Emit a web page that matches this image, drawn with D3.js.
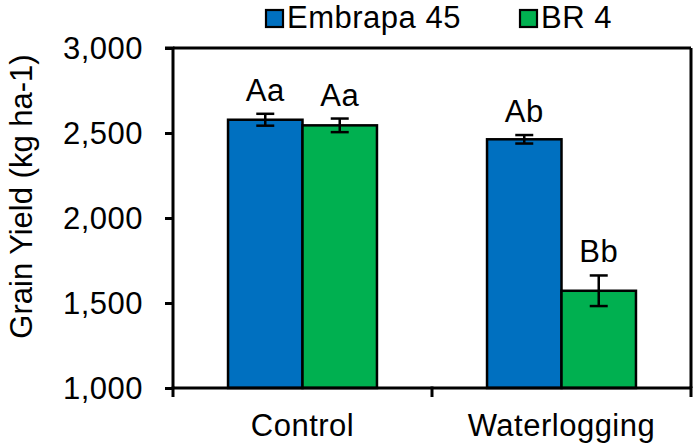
<!DOCTYPE html>
<html>
<head>
<meta charset="utf-8">
<script src="https://cdn.jsdelivr.net/npm/d3@7"></script>
<style>
  body { margin: 0; background: #fff; }
  svg text { font-family: "Liberation Sans", Arial, sans-serif; fill: #000; }
</style>
</head>
<body>
<svg id="chart" width="695" height="445"></svg>
<script>
const categories = ["Control", "Waterlogging"];
const series = ["Embrapa 45", "BR 4"];
const embrapa45 = [2578, 2463];
const br4 = [2545, 1572];
const embrapa45Err = [35, 25];
const br4Err = [40, 90];
const embrapa45Labels = ["Aa", "Ab"];
const br4Labels = ["Aa", "Bb"];
const yTicks = [1000, 1500, 2000, 2500, 3000];
const colors = ["#0070C0", "#00B050"];

(function () {
const svg = d3.select("#chart");
const pL = 173, pR = 691, pT = 48, pB = 388;
const fs = 31, ls = "0.5px";

const y = d3.scaleLinear().domain([1000, 3000]).range([pB, pT]);
const x0 = d3.scaleBand().domain(categories).range([pL, pR]).padding(0);
const bw = x0.bandwidth();
const x1 = d3.scaleBand().domain(series).range([bw * 0.2125, bw * 0.7875]).padding(0);

const data = [];
categories.forEach((c, i) => {
  data.push({cat: c, s: series[0], v: embrapa45[i], e: embrapa45Err[i], lab: embrapa45Labels[i], col: colors[0]});
  data.push({cat: c, s: series[1], v: br4[i], e: br4Err[i], lab: br4Labels[i], col: colors[1]});
});

// bars
svg.append("g").selectAll("rect").data(data).join("rect")
  .attr("x", d => x0(d.cat) + x1(d.s))
  .attr("y", d => y(d.v))
  .attr("width", x1.bandwidth())
  .attr("height", d => y(1000) - y(d.v))
  .attr("fill", d => d.col)
  .attr("stroke", "#000")
  .attr("stroke-width", 2.5);

// error bars
const eg = svg.append("g").attr("stroke", "#000").attr("stroke-width", 2.5);
data.forEach(d => {
  const cx = x0(d.cat) + x1(d.s) + x1.bandwidth() / 2;
  eg.append("line").attr("x1", cx).attr("x2", cx).attr("y1", y(d.v + d.e)).attr("y2", y(d.v - d.e));
  eg.append("line").attr("x1", cx - 9).attr("x2", cx + 9).attr("y1", y(d.v + d.e)).attr("y2", y(d.v + d.e));
  eg.append("line").attr("x1", cx - 9).attr("x2", cx + 9).attr("y1", y(d.v - d.e)).attr("y2", y(d.v - d.e));
});

// letter labels
svg.append("g").selectAll("text").data(data).join("text")
  .attr("x", d => x0(d.cat) + x1(d.s) + x1.bandwidth() / 2)
  .attr("y", d => y(d.v + d.e) - 13)
  .attr("text-anchor", "middle")
  .attr("font-size", fs)
  .style("letter-spacing", ls)
  .text(d => d.lab);

// frame top/right
svg.append("line").attr("x1", pL).attr("x2", pR).attr("y1", pT).attr("y2", pT)
  .attr("stroke", "#000").attr("stroke-width", 3);
svg.append("line").attr("x1", pR).attr("x2", pR).attr("y1", pT).attr("y2", pB)
  .attr("stroke", "#000").attr("stroke-width", 3);

// y axis
const yAxis = d3.axisLeft(y).tickValues(yTicks).tickSize(8).tickPadding(22)
  .tickFormat(d3.format(","));
const ya = svg.append("g").attr("transform", `translate(${pL},0)`).call(yAxis);
ya.select(".domain").attr("stroke-width", 3).attr("d", `M-8,${pT}H0V${pB}`);
ya.selectAll(".tick line").attr("stroke-width", 3);
ya.selectAll(".tick text").attr("font-size", fs).style("letter-spacing", ls)
  .attr("font-family", "Liberation Sans, Arial, sans-serif").attr("dy", "0.35em");

// x axis
const xa = svg.append("g").attr("transform", `translate(0,${pB})`);
xa.append("line").attr("x1", pL).attr("x2", pR).attr("y1", 0).attr("y2", 0)
  .attr("stroke", "#000").attr("stroke-width", 3);
const bounds = [pL].concat(categories.map(c => x0(c) + bw));
xa.selectAll("line.tk").data(bounds).join("line").attr("class", "tk")
  .attr("x1", d => d).attr("x2", d => d).attr("y1", -1.5).attr("y2", 9)
  .attr("stroke", "#000").attr("stroke-width", 3);
xa.selectAll("text").data(categories).join("text")
  .attr("x", d => x0(d) + bw / 2)
  .attr("y", 48)
  .attr("text-anchor", "middle")
  .attr("font-size", fs)
  .style("letter-spacing", ls)
  .text(d => d);

// y title
svg.append("text")
  .attr("transform", `translate(32,196.5) rotate(-90)`)
  .attr("text-anchor", "middle")
  .attr("font-size", fs)
  .text("Grain Yield (kg ha-1)");

// legend
const legX = [266, 520];
series.forEach((s, i) => {
  const g = svg.append("g").attr("transform", `translate(${legX[i]},10)`);
  g.append("rect").attr("x", 0).attr("y", 0).attr("width", 17).attr("height", 17)
    .attr("fill", colors[i]).attr("stroke", "#000").attr("stroke-width", 2.2);
  g.append("text").attr("x", 21).attr("y", 18).attr("font-size", fs)
    .style("letter-spacing", ls).text(s);
});
})();
</script>
</body>
</html>
